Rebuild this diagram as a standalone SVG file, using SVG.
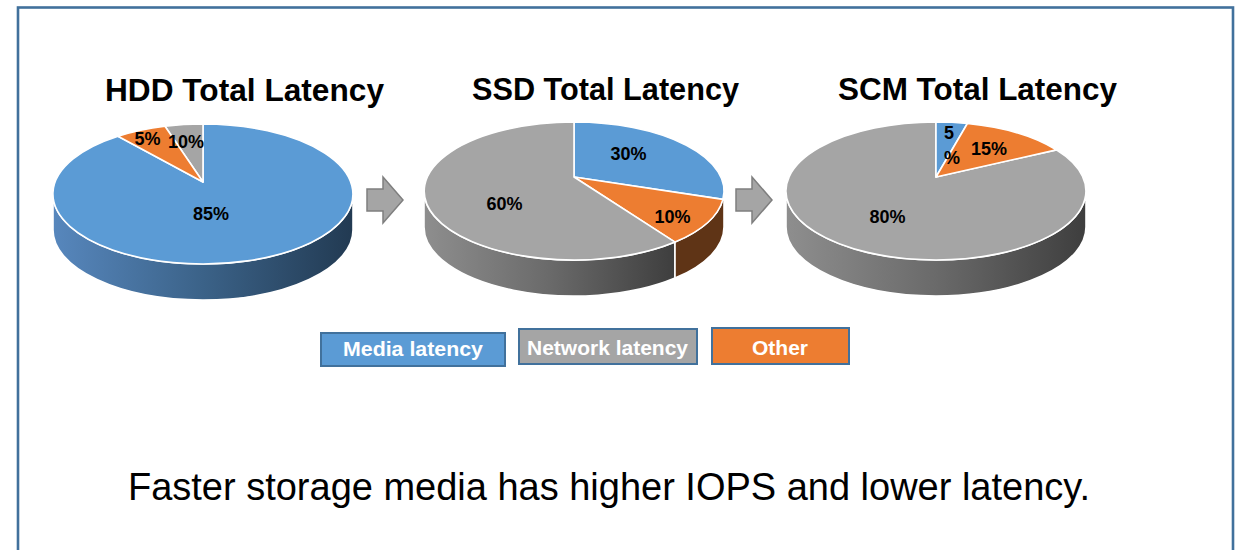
<svg xmlns="http://www.w3.org/2000/svg" width="1241" height="550" viewBox="0 0 1241 550">
  <defs>
    <linearGradient id="gBlueSide" x1="0" y1="0" x2="1" y2="0">
      <stop offset="0" stop-color="#5787bd"/>
      <stop offset="0.5" stop-color="#3b6288"/>
      <stop offset="1" stop-color="#223a52"/>
    </linearGradient>
    <linearGradient id="gGraySide" x1="0" y1="0" x2="1" y2="0">
      <stop offset="0" stop-color="#8e8e8e"/>
      <stop offset="0.5" stop-color="#6a6a6a"/>
      <stop offset="1" stop-color="#3e3e3e"/>
    </linearGradient>
    <style>
      .edge { stroke: #ffffff; stroke-width: 1.6; stroke-linejoin: round; }
      .blue { fill: #5b9bd5; }
      .orange { fill: #ed7d31; }
      .gray { fill: #a5a5a5; }
      .orangeSide { fill: #5f3416; }
      .title { font-family: "Liberation Sans", Arial, sans-serif; font-weight: bold; font-size: 31px; fill: #000000; }
      .lbl { font-family: "Liberation Sans", Arial, sans-serif; font-weight: bold; font-size: 18px; fill: #000000; text-anchor: middle; }
      .leg { font-family: "Liberation Sans", Arial, sans-serif; font-weight: bold; font-size: 20px; fill: #ffffff; }
      .legbox { stroke: #41719c; stroke-width: 2; }
      .arrow { fill: #a5a5a5; stroke: #7f7f7f; stroke-width: 1.5; stroke-linejoin: miter; }
      .caption { font-family: "Liberation Sans", Arial, sans-serif; font-size: 38px; fill: #000000; }
    </style>
  </defs>

  <rect x="0" y="0" width="1241" height="550" fill="#ffffff"/>
  <rect id="frame" x="18" y="7.5" width="1215" height="560" fill="none" stroke="#41719c" stroke-width="2.6"/>

  <g id="pie-hdd">
    <text class="title" x="105" y="101" textLength="279" lengthAdjust="spacingAndGlyphs">HDD Total Latency</text>
    <path class="edge" fill="url(#gBlueSide)" d="M53,194 L53,230 A150,70 0 0 0 353,230 L353,194 A150,70 0 0 1 53,194 Z"/>
    <path class="edge blue" d="M203,182 L203,124 A150,70 0 1 1 118,136.3 Z"/>
    <path class="edge gray" d="M203,182 L165,126.3 A150,70 0 0 1 203,124 Z"/>
    <path class="edge orange" d="M203,182 L118,136.3 A150,70 0 0 1 165,126.3 Z"/>
    <text class="lbl" x="211" y="219.5">85%</text>
    <text class="lbl" x="147.5" y="144.5">5%</text>
    <text class="lbl" x="186" y="148">10%</text>
  </g>

  <g id="pie-ssd">
    <text class="title" x="472" y="100" textLength="267" lengthAdjust="spacingAndGlyphs">SSD Total Latency</text>
    <path class="edge" fill="url(#gGraySide)" d="M424,191 L424,227 A150,69 0 0 0 675,278.1 L675,242.1 A150,69 0 0 1 424,191 Z"/>
    <path class="edge orangeSide" d="M675,242.1 L675,278.1 A150,69 0 0 0 724,227 L724,191 A150,69 0 0 1 675,242.1 Z"/>
    <path class="edge blue" d="M574,177 L574,122 A150,69 0 0 1 722.9,199.4 Z"/>
    <path class="edge orange" d="M574,177 L722.9,199.4 A150,69 0 0 1 675,242.1 Z"/>
    <path class="edge gray" d="M574,177 L675,242.1 A150,69 0 1 1 574,122 Z"/>
    <text class="lbl" x="628.5" y="159.5">30%</text>
    <text class="lbl" x="504.5" y="209.5">60%</text>
    <text class="lbl" x="672.5" y="222.5">10%</text>
  </g>

  <g id="pie-scm">
    <text class="title" x="838" y="100" textLength="279" lengthAdjust="spacingAndGlyphs">SCM Total Latency</text>
    <path class="edge" fill="url(#gGraySide)" d="M786,191 L786,227 A150,69 0 0 0 1086,227 L1086,191 A150,69 0 0 1 786,191 Z"/>
    <path class="edge gray" d="M936,177 L1056.4,149.9 A150,69 0 1 1 936,122 Z"/>
    <path class="edge blue" d="M936,177 L936,122 A150,69 0 0 1 967.4,123.5 Z"/>
    <path class="edge orange" d="M936,177 L967.4,123.5 A150,69 0 0 1 1056.4,149.9 Z"/>
    <text class="lbl" x="949" y="138.5">5</text>
    <text class="lbl" x="952" y="163.5">%</text>
    <text class="lbl" x="989" y="154.5">15%</text>
    <text class="lbl" x="887.5" y="223">80%</text>
  </g>

  <g id="connectors">
    <path id="arrow-hdd-ssd" class="arrow" d="M367,189 L383,189 L383,177 L403,200 L383,223 L383,211 L367,211 Z"/>
    <path id="arrow-ssd-scm" class="arrow" d="M736,189 L752,189 L752,177 L772,200 L752,223 L752,211 L736,211 Z"/>
  </g>

  <g id="legend-media">
    <rect class="legbox blue" x="321" y="333" width="184" height="33"/>
    <text class="leg" x="343" y="356" textLength="140" lengthAdjust="spacingAndGlyphs">Media latency</text>
  </g>
  <g id="legend-network">
    <rect class="legbox gray" x="519" y="329" width="178" height="35"/>
    <text class="leg" x="527" y="355" textLength="161" lengthAdjust="spacingAndGlyphs">Network latency</text>
  </g>
  <g id="legend-other">
    <rect class="legbox orange" x="712" y="328" width="137" height="36"/>
    <text class="leg" x="752" y="355" textLength="56" lengthAdjust="spacingAndGlyphs">Other</text>
  </g>

  <text id="caption" class="caption" x="128" y="500" textLength="962" lengthAdjust="spacingAndGlyphs">Faster storage media has higher IOPS and lower latency.</text>
</svg>
